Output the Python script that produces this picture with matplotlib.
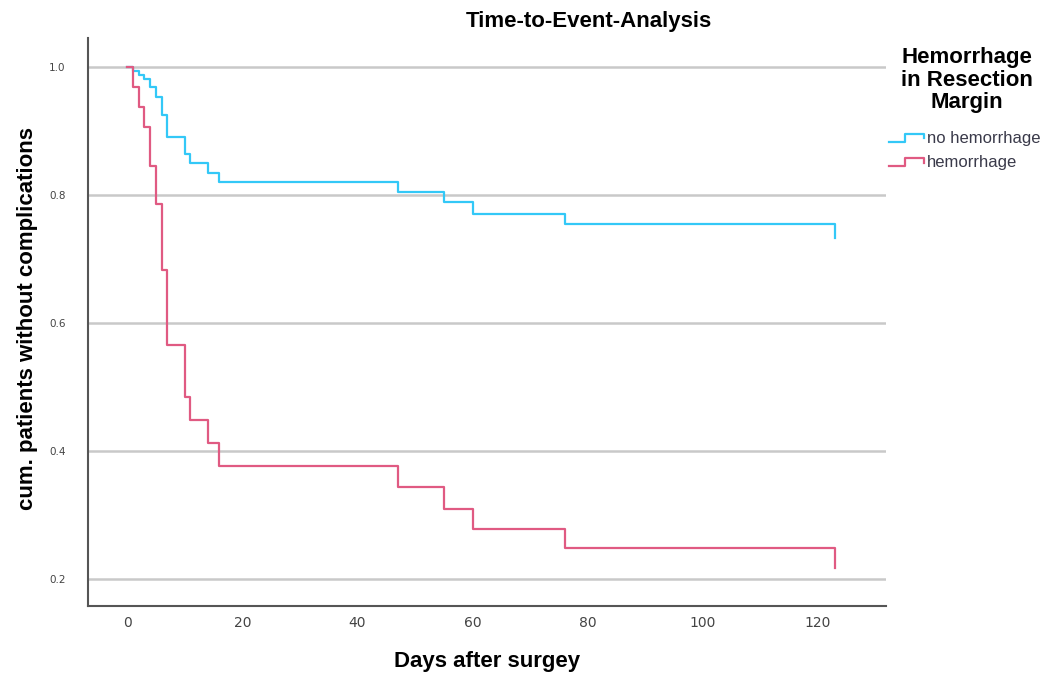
import matplotlib
matplotlib.use("Agg")
import matplotlib.pyplot as plt
from matplotlib.legend_handler import HandlerLine2D
from matplotlib.lines import Line2D

# Data
days = [0, 1, 2, 3, 4, 5, 6, 7, 10, 11, 14, 16, 47, 55, 60, 76, 123]
no_hemorrhage = [1.0, 0.994, 0.9875, 0.981, 0.968, 0.953, 0.925, 0.891, 0.864,
                 0.850, 0.835, 0.821, 0.805, 0.789, 0.771, 0.754, 0.733]
hemorrhage = [1.0, 0.969, 0.938, 0.907, 0.846, 0.786, 0.683, 0.566, 0.485,
              0.448, 0.412, 0.377, 0.343, 0.310, 0.278, 0.248, 0.217]
series_labels = ["no hemorrhage", "hemorrhage"]
x_ticks = [0, 20, 40, 60, 80, 100, 120]
y_ticks = [0.2, 0.4, 0.6, 0.8, 1.0]

BLUE = "#33c8f7"
RED = "#e05a82"

plt.rcParams['font.family'] = ['Liberation Sans', 'DejaVu Sans']

fig = plt.figure(figsize=(10.56, 6.79), dpi=100)
ax = fig.add_axes([88/1056, 1-606/679, (886-88)/1056, (606-38)/679])

for yv in y_ticks:
    ax.axhline(yv, color="#c9c9c9", lw=1.8, zorder=1)

l1, = ax.step(days, no_hemorrhage, where="post", color=BLUE, lw=1.6, zorder=3,
              label=series_labels[0])
l2, = ax.step(days, hemorrhage, where="post", color=RED, lw=1.6, zorder=3,
              label=series_labels[1])

ax.set_xlim(-6.8, 131.8)
ax.set_ylim(1 - (606-67)/640, 1 + (67-38)/640)
ax.set_xticks(x_ticks)
ax.set_yticks(y_ticks)
ax.set_yticklabels([f"{v:.1f}" for v in y_ticks])
ax.tick_params(axis="x", length=0, pad=7, labelsize=10, colors="#444444",
               labelfontfamily="DejaVu Sans")
ax.tick_params(axis="y", length=0, pad=16, labelsize=7.5, colors="#444444",
               labelfontfamily="DejaVu Sans")
for s in ["top", "right"]:
    ax.spines[s].set_visible(False)
for s in ["left", "bottom"]:
    ax.spines[s].set_color("#555555")
    ax.spines[s].set_linewidth(1.5)

ax.set_xlabel("Days after surgey", fontsize=16, fontweight="bold")
ax.xaxis.set_label_coords((487-88)/(886-88), -(662-606)/(606-38))
ax.xaxis.label.set_va("center")
ax.set_ylabel("cum. patients without complications", fontsize=16,
              fontweight="bold")
ax.yaxis.set_label_coords(-(88-28)/(886-88), (606-318)/(606-38))
ax.yaxis.label.set_va("center")
fig.text(589/1056, 1-21/679, "Time-to-Event-Analysis", fontsize=16,
         fontweight="bold", ha="center", va="center")


class StepHandler(HandlerLine2D):
    def create_artists(self, legend, orig_handle, xdescent, ydescent, width,
                       height, fontsize, trans):
        x0 = -xdescent
        y0 = -ydescent
        lo = y0 + 0.1 * height
        hi = y0 + 0.8 * height
        xs = [x0, x0 + 0.45 * width, x0 + 0.45 * width, x0 + width, x0 + width]
        ys = [lo, lo, hi, hi, y0 + 0.4 * height]
        ln = Line2D(xs, ys, color=orig_handle.get_color(), lw=1.6)
        ln.set_transform(trans)
        return [ln]


fig.text(967/1056, 1-80/679, "Hemorrhage\nin Resection\nMargin", fontsize=16,
         fontweight="bold", ha="center", va="center", linespacing=1.1)
leg = fig.legend(handles=[l1, l2], loc="upper left",
                 bbox_to_anchor=(889/1056, 1-131/679), frameon=False,
                 fontsize=12, handlelength=2.1, handletextpad=0.2,
                 labelspacing=0.55, borderaxespad=0, borderpad=0,
                 handler_map={Line2D: StepHandler()})
for t in leg.get_texts():
    t.set_color("#3a3a4a")

fig.savefig("out.png", dpi=100)
